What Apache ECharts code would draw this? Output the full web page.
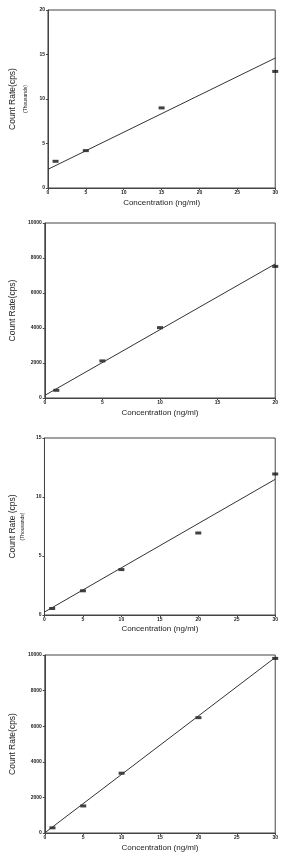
<!DOCTYPE html>
<html>
<head>
<meta charset="utf-8">
<script src="https://cdn.jsdelivr.net/npm/echarts@6/dist/echarts.min.js"></script>
<style>
  html, body { margin: 0; padding: 0; background: #fff; }
  #chart { width: 281px; height: 864px; }
</style>
</head>
<body>
<div id="chart"></div>
<script>
// data (top to bottom)
var conc1 = [1, 5, 15, 30];
var rate1 = [3.0, 4.2, 9.0, 13.1];          // thousands
var fitX1 = [0, 30];
var fitY1 = [2.1, 14.6];

var conc2 = [1, 5, 10, 20];
var rate2 = [440, 2120, 4020, 7520];
var fitX2 = [0, 20];
var fitY2 = [150, 7660];

var conc3 = [1, 5, 10, 20, 30];
var rate3 = [0.55, 2.05, 3.85, 6.95, 11.95]; // thousands
var fitX3 = [0, 30];
var fitY3 = [0.25, 11.5];

var conc4 = [1, 5, 10, 20, 30];
var rate4 = [290, 1520, 3360, 6480, 9810];
var fitX4 = [0, 30];
var fitY4 = [10, 9860];

var xName = 'Concentration (ng/ml)';
var yName = 'Count Rate(cps)';
var yName3 = 'Count Rate (cps)';
var thousands = '(Thousands)';

var panels = [
  { grid: { left: 43, top: 10, width: 234, height: 178 },
    xMax: 30, yMax: 20, yStep: 5, xs: conc1, ys: rate1, fx: fitX1, fy: fitY1,
    name: yName, sub: thousands, l1: 20, l2: 7, gap: 11, xGap: 11 },
  { grid: { left: 44, top: 223, width: 234, height: 175 },
    xMax: 20, yMax: 10000, yStep: 2000, xs: conc2, ys: rate2, fx: fitX2, fy: fitY2,
    name: yName, sub: null, l1: 9, gap: 24, xGap: 11 },
  { grid: { left: 39, top: 438, width: 238, height: 177 },
    xMax: 30, yMax: 15, yStep: 5, xs: conc3, ys: rate3, fx: fitX3, fy: fitY3,
    name: yName3, sub: thousands, l1: 13, l2: 7, gap: 15, xGap: 10 },
  { grid: { left: 41, top: 655, width: 236, height: 178 },
    xMax: 30, yMax: 10000, yStep: 2000, xs: conc4, ys: rate4, fx: fitX4, fy: fitY4,
    name: yName, sub: null, l1: 9, gap: 24, xGap: 11 }
];

var axisColor = '#444';
var textColor = '#222';
var font = 'Liberation Sans, Arial, sans-serif';
var plain = function (v) { return String(v); };

var grids = [], xAxes = [], yAxes = [], series = [];

panels.forEach(function (p, i) {
  grids.push(Object.assign({ show: true, borderColor: axisColor, borderWidth: 1, backgroundColor: '#fff' }, p.grid));

  xAxes.push({
    gridIndex: i, type: 'value', min: 0, max: p.xMax, interval: 5,
    name: xName, nameLocation: 'middle', nameGap: p.xGap,
    nameTextStyle: { fontSize: 8, color: textColor, fontFamily: font },
    axisLine: { show: true, lineStyle: { color: axisColor, width: 1 } },
    axisTick: { show: true, length: 2, lineStyle: { color: axisColor } },
    axisLabel: { fontSize: 5, color: textColor, margin: 2, fontFamily: font, fontWeight: 'bold', formatter: plain },
    splitLine: { show: false }
  });

  var nm = p.sub ? '{a|' + p.name + '}\n{b|' + p.sub + '}' : '{a|' + p.name + '}';
  yAxes.push({
    gridIndex: i, type: 'value', min: 0, max: p.yMax, interval: p.yStep,
    name: nm, nameLocation: 'middle', nameGap: p.gap, nameRotate: 90,
    nameTextStyle: {
      color: textColor, fontFamily: font,
      rich: {
        a: { fontSize: 8.5, lineHeight: p.l1, color: textColor, fontFamily: font },
        b: { fontSize: 5, lineHeight: p.l2 || 7, color: textColor, fontFamily: font }
      }
    },
    axisLine: { show: true, lineStyle: { color: axisColor, width: 1 } },
    axisTick: { show: true, length: 2, lineStyle: { color: axisColor } },
    axisLabel: { fontSize: 5, color: textColor, margin: 3, fontFamily: font, fontWeight: 'bold', formatter: plain },
    splitLine: { show: false }
  });

  series.push({
    type: 'line', xAxisIndex: i, yAxisIndex: i, symbol: 'none', silent: true,
    lineStyle: { color: '#333', width: 1 },
    data: p.fx.map(function (x, k) { return [x, p.fy[k]]; })
  });
  series.push({
    type: 'scatter', xAxisIndex: i, yAxisIndex: i, symbol: 'rect', symbolSize: [6, 3],
    itemStyle: { color: '#111' },
    data: p.xs.map(function (x, k) { return [x, p.ys[k]]; })
  });
});

var chart = echarts.init(document.getElementById('chart'), null, { renderer: 'canvas' });
chart.setOption({
  backgroundColor: '#fff',
  animation: false,
  grid: grids,
  xAxis: xAxes,
  yAxis: yAxes,
  series: series
});
</script>
</body>
</html>
